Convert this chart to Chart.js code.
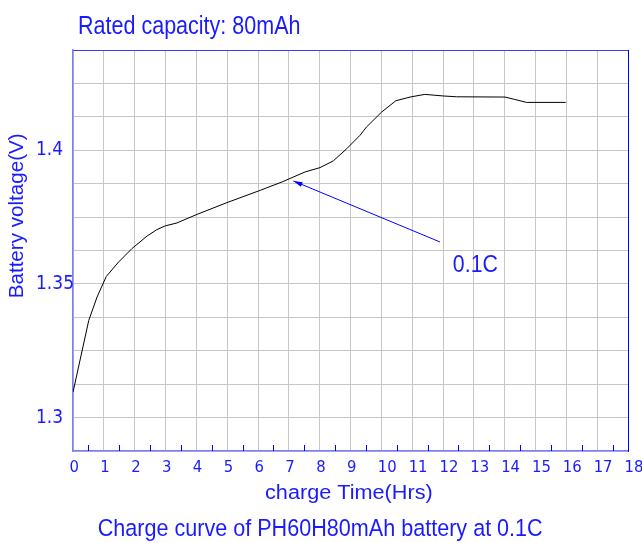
<!DOCTYPE html>
<html><head><meta charset="utf-8">
<script src="https://cdn.jsdelivr.net/npm/chart.js@4.4.0/dist/chart.umd.min.js"></script>
<style>html,body{margin:0;padding:0;background:#fff;}canvas{display:block;}</style>
</head><body>
<canvas id="c" width="642" height="543"></canvas>
<script>
// ---- data ----
const timeHrs = [0, 0.51, 0.78, 1.08, 1.48, 1.91, 2.40, 2.72, 2.99, 3.37, 4.02, 4.99, 6.07, 6.77, 7.53, 8.01, 8.44, 8.88, 9.31, 9.52, 10.01, 10.47, 10.93, 11.41, 12.01, 12.44, 14.01, 14.33, 14.71, 15.98];
const voltage = [1.3095, 1.3363, 1.3451, 1.3528, 1.3582, 1.3632, 1.3679, 1.3703, 1.3717, 1.3728, 1.3760, 1.3804, 1.3850, 1.3881, 1.3919, 1.3935, 1.3960, 1.4006, 1.4056, 1.4087, 1.4143, 1.4185, 1.4199, 1.4209, 1.4203, 1.4200, 1.4199, 1.4190, 1.4179, 1.4179];
const xTickLabels = ['0','1','2','3','4','5','6','7','8','9','10','11','12','13','14','15','16','17','18'];
const yTickValues = [1.3, 1.35, 1.4];
const yTickLabels = ['1.3', '1.35', '1.4'];
const minorTicks = [0.5, 1.5, 2.5, 3.5, 4.5, 5.5, 6.5, 7.5, 8.5, 9.5, 10.5, 11.5, 12.5, 13.5, 14.5, 15.5, 16.5, 17.5];
const arrowFrom = [11.9, 1.3657];
const arrowTo = [7.15, 1.3885];
const annotationText = '0.1C';
const annotationAt = [12.32, 1.3544];
const titleText = 'Rated capacity: 80mAh';
const xTitleText = 'charge Time(Hrs)';
const yTitleText = 'Battery voltage(V)';
const captionText = 'Charge curve of PH60H80mAh battery at 0.1C';

// ---- style ----
const TEXT = '#1a1aff';
const GRID = '#c6c6c6';
function pickFamily() {
  const c = document.createElement('canvas').getContext('2d');
  const s = '0123456789abcdef';
  c.font = '20px monospace';
  const base = c.measureText(s).width;
  for (const f of ['Liberation Sans Narrow', 'DejaVu Sans Condensed']) {
    c.font = '20px "' + f + '", monospace';
    if (Math.abs(c.measureText(s).width - base) > 0.5) return '"' + f + '"';
  }
  return '"Liberation Sans"';
}
const NARROW = pickFamily();

function fitText(ctx, text, x, y, cap, width, color, rot) {
  const size = cap / 0.716;
  ctx.save();
  ctx.font = size + 'px "Liberation Sans", Arial, sans-serif';
  const w = ctx.measureText(text).width;
  ctx.translate(x, y);
  if (rot) ctx.rotate(rot);
  ctx.scale(width / w, 1);
  ctx.fillStyle = color;
  ctx.textAlign = 'left';
  ctx.textBaseline = 'alphabetic';
  ctx.fillText(text, 0, 0);
  ctx.restore();
}

const decor = {
  id: 'decor',
  afterDraw(chart) {
    const ctx = chart.ctx;
    const xs = chart.scales.x, ys = chart.scales.y;
    const bottom = chart.chartArea.bottom;
    // half-hour tick marks inside the plot
    ctx.save();
    ctx.strokeStyle = '#0000ff';
    ctx.lineWidth = 1;
    ctx.beginPath();
    minorTicks.forEach(v => {
      const px = Math.round(xs.getPixelForValue(v)) + 0.5;
      ctx.moveTo(px, bottom);
      ctx.lineTo(px, bottom - 6);
    });
    ctx.stroke();
    // arrow
    const x1 = xs.getPixelForValue(arrowFrom[0]), y1 = ys.getPixelForValue(arrowFrom[1]);
    const x2 = xs.getPixelForValue(arrowTo[0]), y2 = ys.getPixelForValue(arrowTo[1]);
    const ang = Math.atan2(y2 - y1, x2 - x1);
    ctx.beginPath();
    ctx.moveTo(x1, y1);
    ctx.lineTo(x2, y2);
    ctx.stroke();
    ctx.fillStyle = '#0000ff';
    ctx.beginPath();
    ctx.moveTo(x2, y2);
    ctx.lineTo(x2 - 9 * Math.cos(ang) + 2.5 * Math.sin(ang), y2 - 9 * Math.sin(ang) - 2.5 * Math.cos(ang));
    ctx.lineTo(x2 - 9 * Math.cos(ang) - 2.5 * Math.sin(ang), y2 - 9 * Math.sin(ang) + 2.5 * Math.cos(ang));
    ctx.closePath();
    ctx.fill();
    ctx.restore();
    // annotation text
    fitText(ctx, annotationText, xs.getPixelForValue(annotationAt[0]), ys.getPixelForValue(annotationAt[1]), 16.7, 45, TEXT);
    // titles
    fitText(ctx, titleText, 78, 33.5, 18.3, 222.5, TEXT);
    fitText(ctx, xTitleText, 265, 499.3, 14.3, 167.7, TEXT);
    fitText(ctx, captionText, 97.7, 535.7, 16.7, 445, TEXT);
    fitText(ctx, yTitleText, 22.5, 298.3, 14.3, 165, TEXT, -Math.PI / 2);
  }
};

new Chart(document.getElementById('c'), {
  type: 'line',
  data: {
    datasets: [{
      data: timeHrs.map((t, i) => ({ x: t, y: voltage[i] })),
      borderColor: '#000000',
      borderWidth: 1,
      pointRadius: 0,
      tension: 0,
      fill: false
    }]
  },
  options: {
    responsive: false,
    animation: false,
    devicePixelRatio: 1,
    layout: { padding: { left: 36, top: 50, right: 14, bottom: 0 } },
    plugins: { legend: { display: false }, tooltip: { enabled: false }, title: { display: false } },
    scales: {
      x: {
        type: 'linear', position: 'bottom', min: 0, max: 18,
        ticks: {
          stepSize: 1, autoSkip: false, maxRotation: 0, align: 'start', labelOffset: -3.5, padding: 7,
          color: TEXT, font: { family: NARROW, size: 16.5 },
          callback: (v, i) => xTickLabels[i]
        },
        grid: { color: GRID, lineWidth: 1, drawTicks: false },
        border: { color: '#7b7bff', width: 1.5 },
        afterFit(s) { s.height = 92; s.paddingLeft = 0; s.paddingRight = 0; }
      },
      x2: {
        type: 'linear', position: 'top', min: 0, max: 18,
        ticks: { display: false },
        grid: { display: false, drawTicks: false },
        border: { color: '#3a3aff', width: 1 },
        afterFit(s) { s.height = 0; s.paddingLeft = 0; s.paddingRight = 0; }
      },
      y: {
        type: 'linear', position: 'left', min: 1.2875, max: 1.4375,
        ticks: {
          stepSize: 0.0125, autoSkip: false, crossAlign: 'far',
          color: TEXT, font: { family: NARROW, size: 19 },
          callback: (v) => {
            const k = yTickValues.findIndex(t => Math.abs(t - v) < 1e-6);
            return k >= 0 ? yTickLabels[k] : '';
          }
        },
        grid: { color: GRID, lineWidth: 1, drawTicks: false },
        border: { color: '#7b7bff', width: 1.5 },
        afterFit(s) { s.width = 37; s.paddingTop = 0; s.paddingBottom = 0; }
      },
      y2: {
        type: 'linear', position: 'right', min: 1.2875, max: 1.4375,
        ticks: { display: false },
        grid: { display: false, drawTicks: false },
        border: { color: '#0000ff', width: 1 },
        afterFit(s) { s.width = 0; s.paddingTop = 0; s.paddingBottom = 0; }
      }
    }
  },
  plugins: [decor]
});
</script>
</body></html>
